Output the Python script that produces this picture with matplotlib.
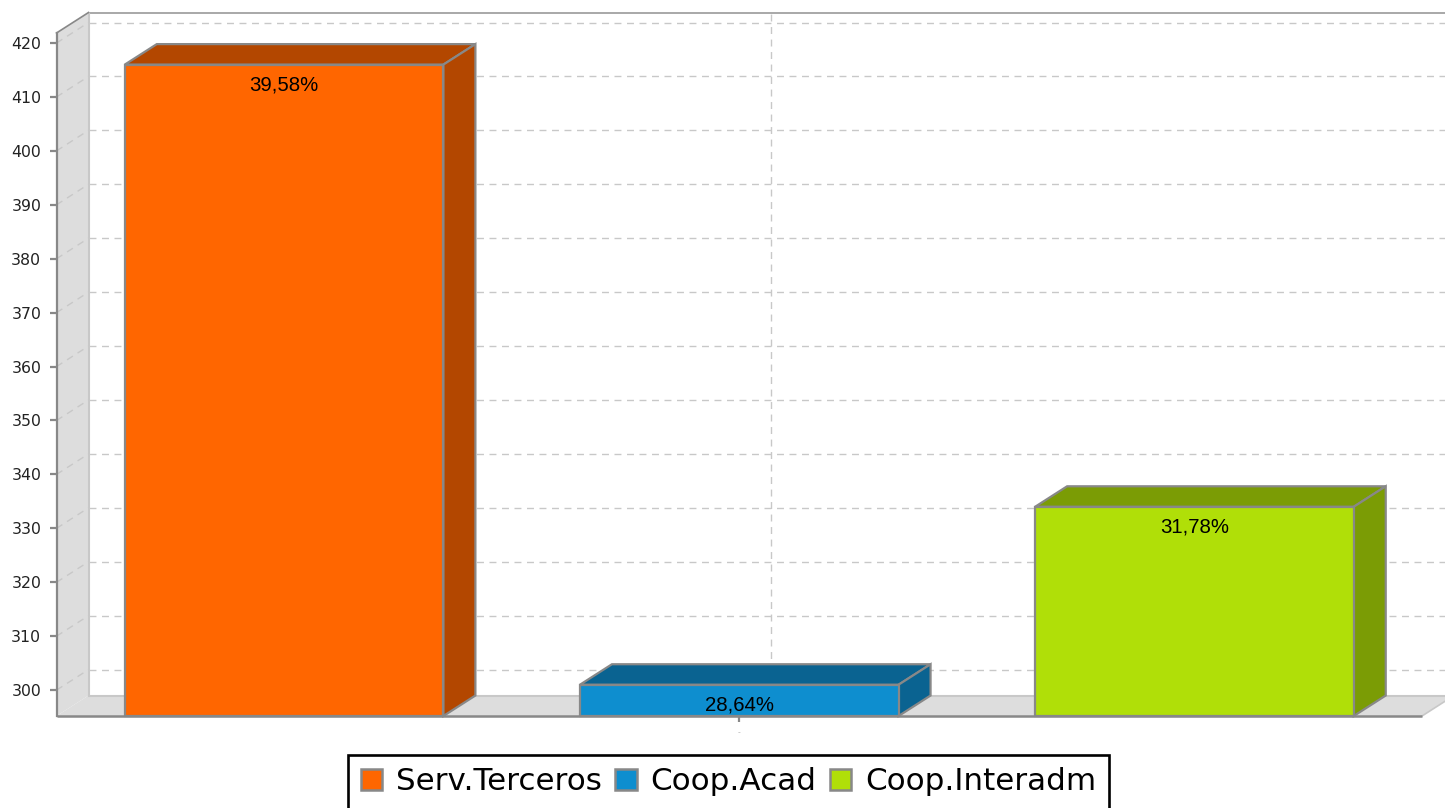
import matplotlib.pyplot as plt
from matplotlib.patches import Polygon, Rectangle, Patch

# data
series = ['Serv.Terceros', 'Coop.Acad', 'Coop.Interadm']
values = [416, 301, 334]
pct_labels = ['39,58%', '28,64%', '31,78%']
front_colors = ['#ff6600', '#0e8ecf', '#b0df08']
dark_colors = ['#b34700', '#0a6391', '#7b9c05']
y_ticks = [300, 310, 320, 330, 340, 350, 360, 370, 380, 390, 400, 410, 420]

plt.rcParams['font.family'] = ['Liberation Sans', 'DejaVu Sans']

W, H = 1445, 808
fig = plt.figure(figsize=(W / 100, H / 100), dpi=100)
ax = fig.add_axes([56.5 / W, (H - 716) / H, 1365.5 / W, (716 - 33) / H])

x0, x1 = -0.5, 2.5
y0, y1 = 295.2, 421.86
ax.set_xlim(x0, x1)
ax.set_ylim(y0, y1)
for s in ax.spines.values():
    s.set_visible(False)

# depth of the 3D effect in data units
DX = 32 / 455.0
DY = 3.8
bw = 0.35
EDGE = '#888888'
GRID = '#c8c8c8'
xr = x1 + 0.2  # back wall runs off the figure edge

# back wall
ax.add_patch(Polygon([(x0 + DX, y0 + DY), (xr, y0 + DY), (xr, y1 + DY),
                      (x0 + DX, y1 + DY)], closed=True, facecolor='white',
                     edgecolor='none', zorder=0, clip_on=False))
ax.plot([x0 + DX, xr], [y1 + DY, y1 + DY], color='#999999', lw=1.2,
        zorder=1, clip_on=False)
# left wall
ax.add_patch(Polygon([(x0, y0), (x0, y1), (x0 + DX, y1 + DY), (x0 + DX, y0 + DY)],
                     closed=True, facecolor='#dddddd', edgecolor='none',
                     zorder=1, clip_on=False))
ax.plot([x0 + DX, x0 + DX], [y0 + DY, y1 + DY], color=GRID, lw=1.5,
        zorder=1.5, clip_on=False)
# floor
ax.add_patch(Polygon([(x0, y0), (x1, y0), (x1 + DX, y0 + DY), (x0 + DX, y0 + DY)],
                     closed=True, facecolor='#dddddd', edgecolor='none',
                     zorder=1, clip_on=False))
ax.plot([x0 + DX, xr], [y0 + DY, y0 + DY], color=GRID, lw=1.5,
        zorder=1.5, clip_on=False)
ax.plot([x1, x1 + DX], [y0, y0 + DY], color=GRID, lw=1.2,
        zorder=1.5, clip_on=False)

# gridlines
for v in y_ticks:
    ax.plot([x0 + DX, xr], [v + DY, v + DY], color=GRID, lw=1,
            ls=(0, (5, 4)), zorder=0.5, clip_on=False)
    ax.plot([x0, x0 + DX], [v, v + DY], color=GRID, lw=1,
            ls=(0, (5, 4)), zorder=1.2, clip_on=False)
ax.plot([1 + DX, 1 + DX], [y0 + DY, y1 + DY], color=GRID, lw=1,
        ls=(0, (5, 4)), zorder=0.5, clip_on=False)

# bars
for i, (v, fc, dc, lab) in enumerate(zip(values, front_colors, dark_colors, pct_labels)):
    l, r = i - bw, i + bw
    ax.add_patch(Polygon([(l, v), (r, v), (r + DX, v + DY), (l + DX, v + DY)],
                         closed=True, facecolor=dc, edgecolor=EDGE, lw=1.6,
                         joinstyle='miter', zorder=3, clip_on=False))
    ax.add_patch(Polygon([(r, y0), (r, v), (r + DX, v + DY), (r + DX, y0 + DY)],
                         closed=True, facecolor=dc, edgecolor=EDGE, lw=1.6,
                         joinstyle='miter', zorder=3, clip_on=False))
    ax.add_patch(Rectangle((l, y0), 2 * bw, v - y0, facecolor=fc,
                           edgecolor=EDGE, lw=1.6, zorder=3.5, clip_on=False))
    ax.text(i, v - 3.75, lab, ha='center', va='center', fontsize=14.7,
            color='black', zorder=5)

# front axis lines
ax.plot([x0, x0], [y0, y1], color=EDGE, lw=1.6, zorder=4, clip_on=False)
ax.plot([x0, x0 + DX], [y1, y1 + DY], color=EDGE, lw=1.2, zorder=4, clip_on=False)
ax.plot([x0, x1], [y0, y0], color=EDGE, lw=1.8, zorder=4,
        clip_on=False, solid_capstyle='butt')

ax.set_yticks(y_ticks)
ax.set_yticklabels([str(t) for t in y_ticks], family='DejaVu Sans')
ax.tick_params(axis='y', length=5, width=1.6, color=EDGE, pad=6,
               labelsize=11.3, labelcolor='#222222')
ax.set_xticks([1])
ax.set_xticklabels(['-'])
ax.tick_params(axis='x', length=4.5, width=1.6, color=EDGE, pad=5,
               labelsize=6, labelcolor='#aaaaaa')

handles = [Patch(facecolor=c, edgecolor='#888888', lw=1.8) for c in front_colors]
leg = fig.legend(handles, series, loc='upper center',
                 bbox_to_anchor=(728.5 / W, (H - 755) / H), ncol=3,
                 prop={'family': 'DejaVu Sans', 'size': 22.3}, frameon=True,
                 fancybox=False, framealpha=1, handlelength=0.7,
                 handleheight=0.7, handletextpad=0.45, columnspacing=0.42,
                 borderpad=0.4, borderaxespad=0)
leg.get_frame().set_edgecolor('black')
leg.get_frame().set_linewidth(1.9)

fig.savefig('out.png', dpi=100)
